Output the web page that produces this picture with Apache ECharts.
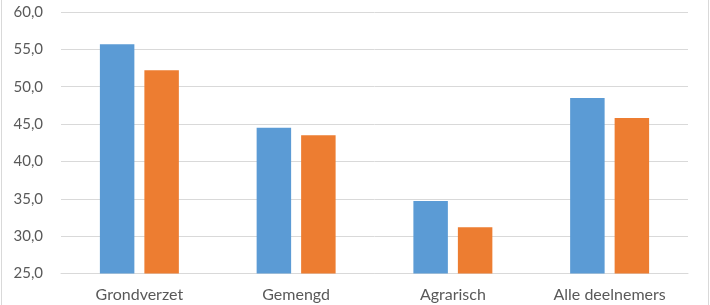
<!DOCTYPE html>
<html>
<head>
<meta charset="utf-8">
<script src="https://cdn.jsdelivr.net/npm/echarts@6/dist/echarts.min.js"></script>
<style>html,body{margin:0;padding:0;background:#fff}#c{width:710px;height:305px}</style>
</head>
<body>
<div id="c"></div>
<script>
var categories = ['Grondverzet', 'Gemengd', 'Agrarisch', 'Alle deelnemers'];
var seriesA = [55.7, 44.5, 34.7, 48.5];
var seriesB = [52.2, 43.5, 31.2, 45.8];
var yTicks = { min: 25, max: 60, interval: 5 };

var chart = echarts.init(document.getElementById('c'), null, { renderer: 'canvas' });
var font = 'Lato, "Open Sans", sans-serif';
chart.setOption({
  animation: false,
  grid: { left: 61, right: 22, top: 12, bottom: 31.5, containLabel: false },
  graphic: [
    { type: 'line', shape: { x1: 1.5, y1: 0, x2: 1.5, y2: 305 }, style: { stroke: '#d9d9d9', lineWidth: 1 } },
    { type: 'line', shape: { x1: 708.5, y1: 0, x2: 708.5, y2: 305 }, style: { stroke: '#d9d9d9', lineWidth: 1 } }
  ],
  xAxis: {
    type: 'category',
    data: categories,
    axisLine: { show: true, lineStyle: { color: '#d9d9d9', width: 1 } },
    axisTick: { show: false },
    axisLabel: { color: '#595959', fontFamily: font, fontSize: 16, margin: 13 }
  },
  yAxis: {
    type: 'value',
    min: yTicks.min, max: yTicks.max, interval: yTicks.interval,
    axisLine: { show: false },
    axisTick: { show: false },
    splitLine: { lineStyle: { color: '#d9d9d9', width: 1 } },
    axisLabel: {
      color: '#595959', fontFamily: font, fontSize: 15, margin: 18,
      formatter: function (v) { return v.toFixed(1).replace('.', ','); }
    }
  },
  series: [
    { type: 'bar', data: seriesA, barWidth: '22%', barGap: '29%', itemStyle: { color: '#5b9bd5' } },
    { type: 'bar', data: seriesB, barWidth: '22%', barGap: '29%', itemStyle: { color: '#ed7d31' } }
  ]
});
</script>
</body>
</html>
